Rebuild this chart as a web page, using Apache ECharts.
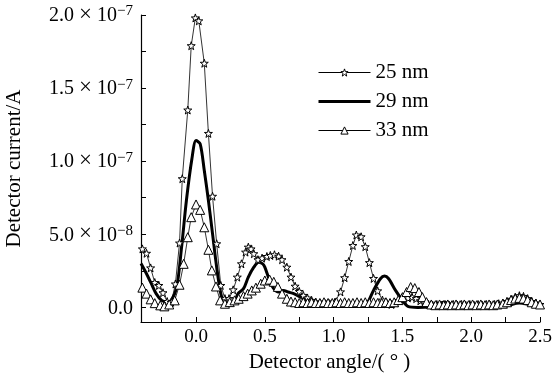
<!DOCTYPE html>
<html>
<head>
<meta charset="utf-8">
<script src="https://cdn.jsdelivr.net/npm/echarts@6/dist/echarts.min.js"></script>
<style>html,body{margin:0;padding:0;background:#fff}#c{width:554px;height:376px}</style>
</head>
<body>
<div id="c"></div>
<script>
// Detector current in units of 1e-8 A
const seriesNames = ['25 nm', '29 nm', '33 nm'];

const angle25 = [-0.39,-0.36,-0.33,-0.30,-0.27,-0.24,-0.21,-0.18,-0.15,-0.12,-0.10,-0.06,-0.035,-0.005,0.02,0.06,0.09,0.12,0.15,0.18,0.21,0.24,0.27,0.30,0.33,0.36,0.38,0.40,0.42,0.45,0.48,0.515,0.54,0.57,0.60,0.625,0.66,0.69,0.72,0.75,0.78,0.81,0.84,0.87,0.90,0.94,0.97,1.01,1.05,1.08,1.11,1.14,1.165,1.20,1.23,1.26,1.29,1.32,1.355,1.39,1.42,1.45,1.48,1.51,1.54,1.57,1.60,1.63,1.66,1.69,1.72,1.75,1.78,1.81,1.84,1.87,1.90,1.93,1.96,1.99,2.02,2.05,2.08,2.11,2.14,2.17,2.20,2.23,2.26,2.29,2.32,2.35,2.38,2.41,2.44,2.47,2.50];
const current25 = [4.0,3.7,2.7,1.7,1.5,1.0,0.4,0.35,1.6,4.4,8.8,13.5,17.9,19.8,19.6,16.7,11.9,7.6,4.35,1.5,0.6,0.6,1.2,2.07,2.98,3.78,4.12,4.0,3.67,3.26,3.37,3.48,3.55,3.60,3.50,3.26,2.75,2.07,1.45,1.09,0.82,0.64,0.48,0.36,0.29,0.25,0.25,0.36,1.06,2.03,3.14,4.23,4.95,4.83,4.15,3.06,1.98,1.13,0.50,0.25,0.2,0.3,0.45,0.55,0.65,0.7,0.6,0.45,0.3,0.2,0.15,0.2,0.15,0.2,0.15,0.2,0.15,0.2,0.15,0.2,0.15,0.2,0.15,0.2,0.15,0.2,0.25,0.3,0.4,0.55,0.7,0.8,0.75,0.6,0.4,0.3,0.2];

const angle29 = [-0.40,-0.36,-0.325,-0.29,-0.25,-0.21,-0.18,-0.14,-0.105,-0.07,-0.03,0.0,0.03,0.06,0.09,0.12,0.15,0.18,0.21,0.245,0.28,0.305,0.345,0.38,0.42,0.455,0.485,0.50,0.535,0.565,0.60,0.635,0.67,0.71,0.745,0.78,0.83,0.88,0.98,1.07,1.12,1.18,1.23,1.29,1.34,1.37,1.40,1.45,1.50,1.54,1.61,1.70,1.76,1.80,1.85,1.95,2.10,2.25,2.35,2.45,2.50];
const current29 = [3.0,2.3,1.62,0.94,0.48,0.36,0.48,1.39,4.12,7.31,10.16,11.41,11.18,9.36,7.31,5.03,2.75,0.94,0.25,0.2,0.36,0.94,1.28,2.07,2.75,3.09,2.98,2.75,1.84,1.28,1.05,1.16,1.05,0.94,0.77,0.64,0.48,0.36,0.36,0.25,0.15,0.1,0.14,1.16,1.96,2.15,1.96,1.16,0.48,0.07,0.0,0.05,0.2,0.35,0.25,0.1,0.05,0.1,0.3,0.15,0.1];

const angle33 = [-0.39,-0.36,-0.33,-0.30,-0.26,-0.23,-0.195,-0.155,-0.12,-0.09,-0.06,-0.035,0.0,0.03,0.06,0.09,0.115,0.145,0.175,0.21,0.245,0.28,0.31,0.345,0.375,0.405,0.435,0.47,0.50,0.535,0.565,0.595,0.625,0.66,0.69,0.72,0.75,0.78,0.81,0.84,0.87,0.90,0.93,0.96,0.99,1.02,1.05,1.08,1.11,1.14,1.17,1.20,1.23,1.26,1.29,1.32,1.35,1.38,1.41,1.44,1.47,1.50,1.53,1.56,1.59,1.62,1.645,1.675,1.71,1.74,1.77,1.80,1.83,1.86,1.89,1.92,1.95,1.98,2.01,2.04,2.07,2.10,2.13,2.16,2.19,2.23,2.26,2.29,2.32,2.35,2.38,2.41,2.44,2.47,2.50];
const current33 = [1.35,0.94,0.55,0.29,0.14,0.07,0.2,0.48,1.55,2.98,4.8,6.17,7.04,6.67,5.48,3.94,2.53,1.43,0.48,0.25,0.36,0.48,0.59,0.77,0.94,1.16,1.35,1.62,1.84,1.9,1.75,1.40,0.94,0.59,0.40,0.35,0.3,0.35,0.3,0.35,0.3,0.3,0.35,0.3,0.3,0.35,0.3,0.35,0.3,0.3,0.35,0.3,0.35,0.3,0.35,0.3,0.3,0.35,0.3,0.35,0.5,0.7,1.05,1.39,1.32,1.05,0.7,0.36,0.2,0.15,0.2,0.15,0.2,0.15,0.2,0.15,0.2,0.15,0.2,0.15,0.2,0.15,0.2,0.15,0.2,0.25,0.35,0.5,0.6,0.65,0.6,0.5,0.35,0.25,0.2];

const xTickValues = [-0.25,0,0.25,0.5,0.75,1.0,1.25,1.5,1.75,2.0,2.25,2.5];
const xLabelValues = [0,0.5,1.0,1.5,2.0,2.5];
const xLabels = ['0.0','0.5','1.0','1.5','2.0','2.5'];
const yTickValues = [0,2.5,5,7.5,10,12.5,15,17.5,20];
const yLabelValues = [0,5,10,15,20];
const yLabelMantissa = ['0.0','5.0','1.0','1.5','2.0'];
const yLabelExp = ['','−8','−7','−7','−7'];

function pairs(xs, ys){ return xs.map((x,i)=>[x, ys[i]]); }

const FONT = 'Liberation Serif';
const starPath = 'path://M0,-10L2.35,-3.24L9.51,-3.09L3.8,1.24L5.88,8.09L0,4L-5.88,8.09L-3.8,1.24L-9.51,-3.09L-2.35,-3.24Z';
const openMarker = {color: '#fff', borderColor: '#000', borderWidth: 1};

const chart = echarts.init(document.getElementById('c'), null, {renderer:'canvas'});
chart.setOption({
  animation: false,
  backgroundColor: '#fff',
  grid: {left: 141, right: 14, top: 15, bottom: 54, containLabel: false, outerBoundsMode: 'none'},
  legend: {
    orient: 'vertical', left: 312, top: 57,
    itemWidth: 52, itemHeight: 9, itemGap: 8,
    textStyle: {fontFamily: FONT, fontSize: 21, color: '#000', lineHeight: 19},
    data: [
      {name: seriesNames[0], itemStyle: openMarker, lineStyle: {color: '#000', width: 1}},
      {name: seriesNames[1], itemStyle: {color: 'rgba(0,0,0,0)', borderWidth: 0}, lineStyle: {color: '#000', width: 3}},
      {name: seriesNames[2], itemStyle: openMarker, lineStyle: {color: '#000', width: 1}}
    ]
  },
  xAxis: {
    type: 'value', min: -0.4, max: 2.5,
    name: 'Detector angle/( ° )', nameLocation: 'middle', nameGap: 24,
    nameTextStyle: {fontFamily: FONT, fontSize: 21, color: '#000', padding: [0, 22, 0, 0]},
    axisLine: {onZero: false, lineStyle: {color: '#000', width: 1.2}},
    axisTick: {inside: true, length: 5, lineStyle: {color: '#000'}, customValues: xTickValues},
    axisLabel: {fontFamily: FONT, fontSize: 19, color: '#000', margin: 6, customValues: xLabelValues,
      formatter: v => { const i = xLabelValues.findIndex(t => Math.abs(t - v) < 1e-9); return i >= 0 ? xLabels[i] : ''; }},
    splitLine: {show: false}
  },
  yAxis: {
    type: 'value', min: -1, max: 20,
    name: 'Detector current/A', nameLocation: 'middle', nameGap: 116, nameRotate: 90,
    nameTextStyle: {fontFamily: FONT, fontSize: 21, color: '#000'},
    axisLine: {show: true, onZero: false, lineStyle: {color: '#000', width: 1.2}},
    axisTick: {show: true, inside: true, length: 5, lineStyle: {color: '#000'}, customValues: yTickValues},
    axisLabel: {margin: 8, customValues: yLabelValues,
      formatter: v => {
        const i = yLabelValues.findIndex(t => Math.abs(t - v) < 1e-9);
        if (i < 0) return '';
        return yLabelExp[i] ? '{m|' + yLabelMantissa[i] + '}{x|×}{m|10}{e|' + yLabelExp[i] + '}' : '{m|' + yLabelMantissa[i] + '}';
      },
      rich: {
        m: {fontFamily: FONT, fontSize: 20, color: '#000', lineHeight: 22, verticalAlign: 'bottom'},
        x: {fontFamily: FONT, fontSize: 23, color: '#000', lineHeight: 22, width: 23, align: 'center', verticalAlign: 'bottom'},
        e: {fontFamily: FONT, fontSize: 15, color: '#000', lineHeight: 12, verticalAlign: 'top'}
      }
    },
    splitLine: {show: false}
  },
  series: [
    {
      name: seriesNames[0], type: 'line', data: pairs(angle25, current25),
      symbol: starPath, symbolSize: 8, showAllSymbol: true,
      lineStyle: {color: '#000', width: 0.8},
      itemStyle: openMarker,
      z: 3
    },
    {
      name: seriesNames[1], type: 'line', data: pairs(angle29, current29),
      symbol: 'none', smooth: 0.3,
      lineStyle: {color: '#000', width: 3},
      itemStyle: {color: '#000'},
      z: 2
    },
    {
      name: seriesNames[2], type: 'line', data: pairs(angle33, current33),
      symbol: 'triangle', symbolSize: 9, showAllSymbol: true,
      lineStyle: {color: '#000', width: 0.8},
      itemStyle: openMarker,
      z: 4
    }
  ]
});
</script>
</body>
</html>
